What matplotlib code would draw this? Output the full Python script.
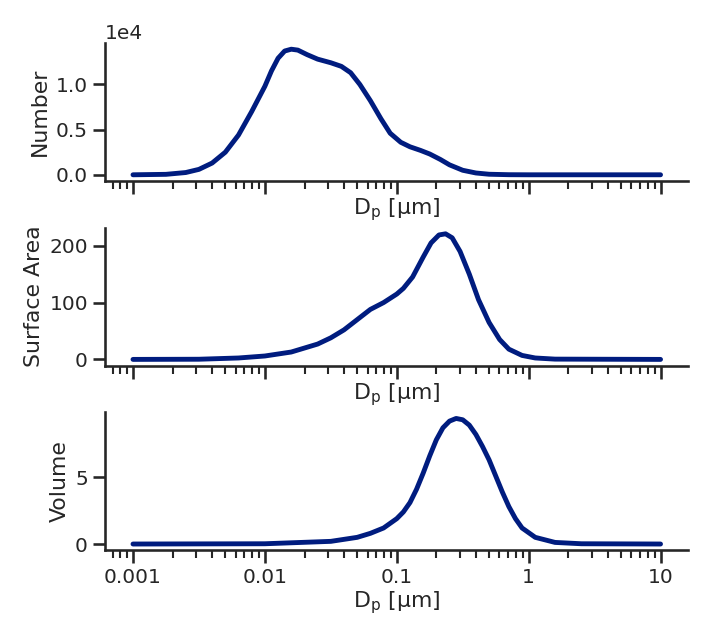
import matplotlib
matplotlib.use("Agg")
import matplotlib.pyplot as plt
import seaborn as sns
import numpy as np
from matplotlib.ticker import FixedLocator, FixedFormatter

sns.set_theme(style="ticks", context="talk", font_scale=0.88)
plt.rcParams['font.family'] = ['DejaVu Sans']

num_logdp = [-3, -2.75, -2.6, -2.5, -2.4, -2.3, -2.2, -2.1, -2.0, -1.95, -1.9, -1.85, -1.8, -1.75, -1.68, -1.6, -1.5, -1.42, -1.35, -1.28, -1.2, -1.12, -1.05, -0.97, -0.9, -0.82, -0.75, -0.67, -0.6, -0.5, -0.4, -0.3, -0.15, 0, 1]
num_vals = [0, 50, 250, 600, 1300, 2500, 4400, 7000, 9800, 11500, 12900, 13700, 13900, 13800, 13300, 12800, 12400, 12000, 11300, 10000, 8200, 6200, 4600, 3600, 3100, 2700, 2300, 1700, 1100, 500, 200, 60, 10, 0, 0]

sa_logdp = [-3, -2.5, -2.2, -2, -1.8, -1.6, -1.5, -1.4, -1.3, -1.2, -1.1, -1.0, -0.95, -0.88, -0.8, -0.74, -0.68, -0.63, -0.58, -0.52, -0.45, -0.38, -0.3, -0.22, -0.15, -0.05, 0.05, 0.2, 1]
sa_vals = [0, 0.3, 2.5, 6, 13, 27, 38, 52, 70, 88, 100, 115, 125, 145, 180, 205, 219, 221, 214, 190, 150, 105, 65, 35, 18, 7, 2.5, 0.5, 0]

vol_logdp = [-3, -2, -1.5, -1.3, -1.2, -1.1, -1.0, -0.95, -0.9, -0.85, -0.8, -0.75, -0.7, -0.65, -0.6, -0.55, -0.5, -0.45, -0.4, -0.35, -0.3, -0.25, -0.2, -0.15, -0.1, -0.05, 0.05, 0.2, 0.4, 1]
vol_vals = [0, 0.02, 0.2, 0.5, 0.8, 1.2, 1.9, 2.4, 3.1, 4.1, 5.3, 6.6, 7.8, 8.7, 9.2, 9.4, 9.3, 8.9, 8.2, 7.3, 6.3, 5.1, 3.9, 2.8, 1.9, 1.2, 0.5, 0.12, 0.02, 0]

xticks = [0.001, 0.01, 0.1, 1, 10]
xticklabels = ["0.001", "0.01", "0.1", "1", "10"]
ylabels = ["Number", "Surface Area", "Volume"]

fig, axes = plt.subplots(3, 1, figsize=(7.12, 6.4), dpi=100, sharex=True)
color = "#001c7f"
for ax, lx, v, yl in zip(axes, [num_logdp, sa_logdp, vol_logdp], [num_vals, sa_vals, vol_vals], ylabels):
    ax.plot(10 ** np.array(lx), v, color=color, lw=3.5)
    ax.set_xscale("log")
    ax.set_ylabel(yl)
    ax.set_xlabel(r"D$_\mathrm{p}$ [μm]", labelpad=2)
    ax.xaxis.set_major_locator(FixedLocator(xticks))
    ax.xaxis.set_major_formatter(FixedFormatter(xticklabels))
    ax.tick_params(labelbottom=(ax is axes[-1]))
    sns.despine(ax=ax)
axes[0].set_xlim(10 ** -3.21, 10 ** 1.21)
axes[0].ticklabel_format(axis="y", style="sci", scilimits=(0, 0))
axes[0].set_yticks([0, 5000, 10000])
axes[1].set_yticks([0, 100, 200])
axes[2].set_yticks([0, 5])
fig.tight_layout(h_pad=0.2)
fig.savefig("out.png")
